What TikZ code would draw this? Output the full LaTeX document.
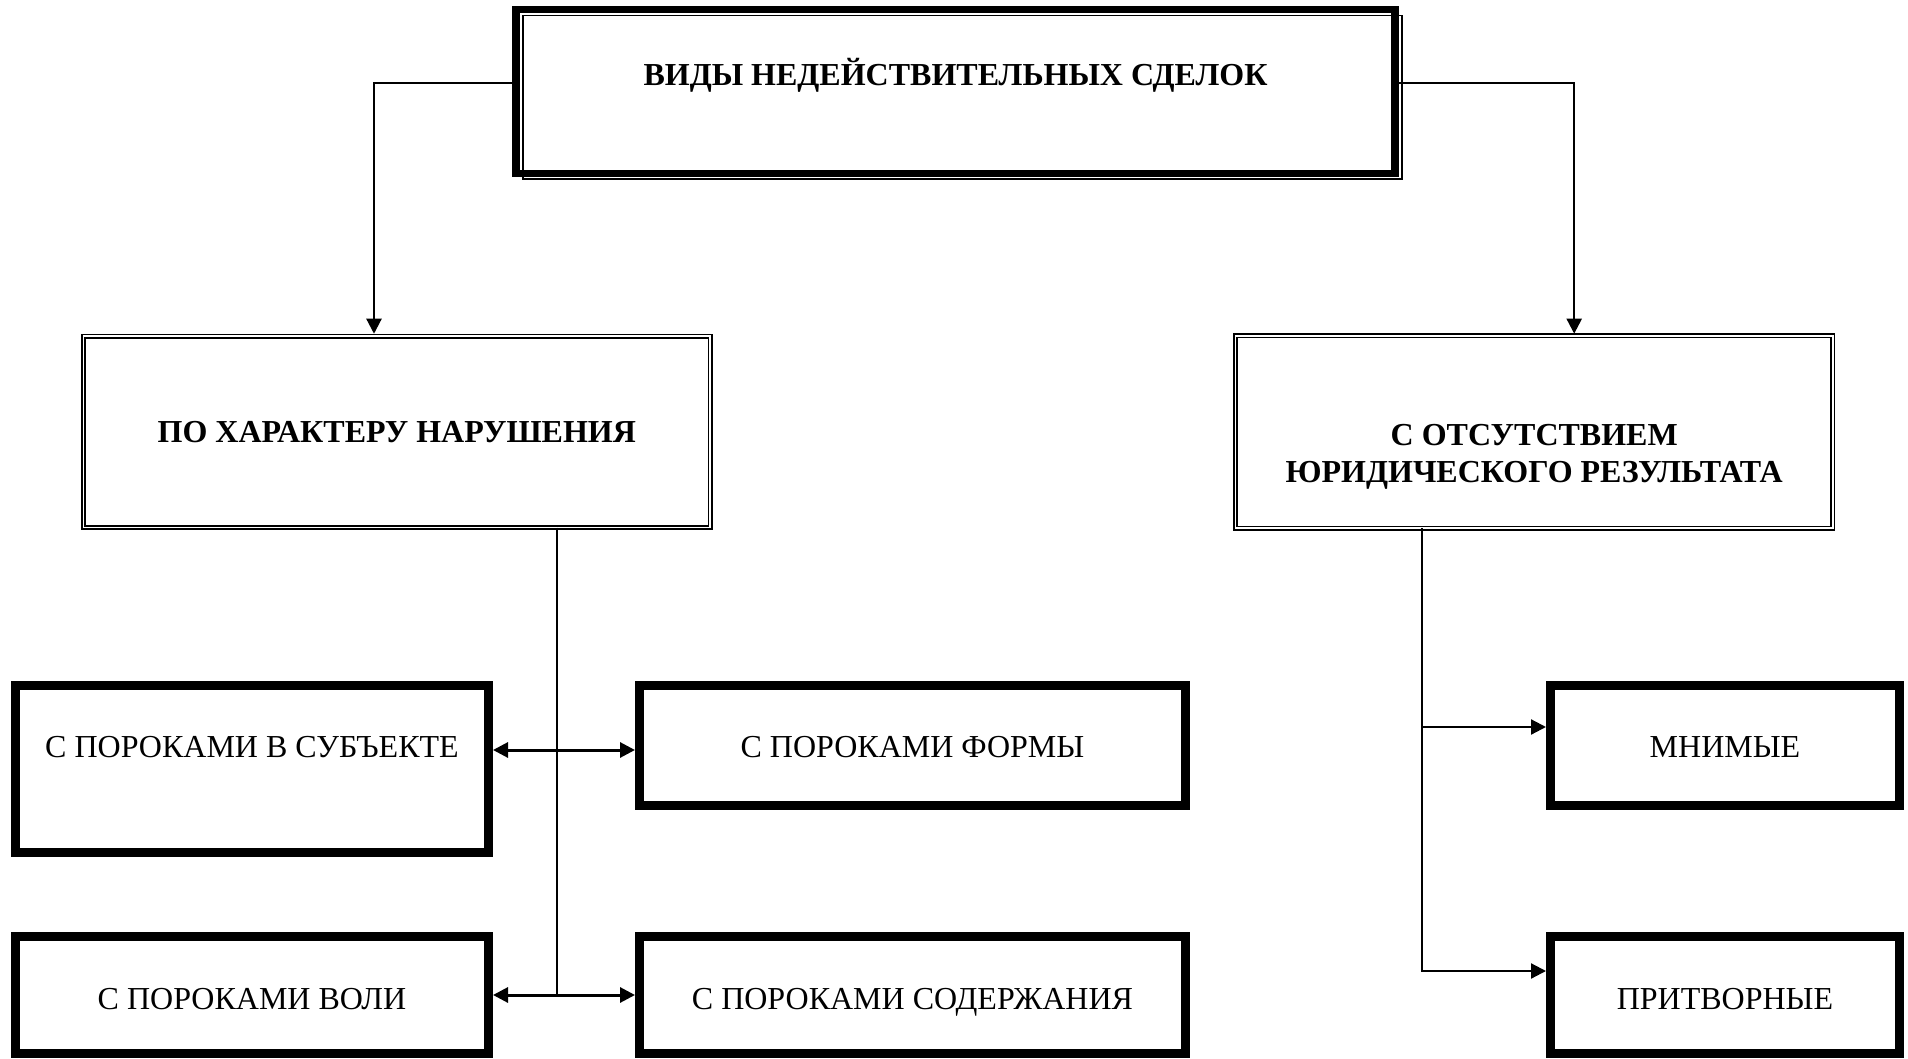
\documentclass[tikz,border=0pt]{standalone}
\usepackage{fontspec}
\setmainfont{Liberation Serif}
\usepackage{tikz}
\usetikzlibrary{arrows.meta,positioning}

\begin{document}
\begin{tikzpicture}[
font=\fontsize{16}{18.5}\selectfont,
topbox/.style={draw,line width=3.75pt,inner sep=0pt,outer sep=0pt,minimum width=439.5pt,text height=38.15pt,text depth=43.65pt,font=\fontsize{16}{18.5}\selectfont\bfseries},
thinframe/.style={draw,line width=0.8pt},
dblbox/.style={draw,double,line width=0.9pt,double distance=0.7pt,inner sep=0pt,outer sep=0pt,minimum height=95.75pt,align=center,font=\fontsize{16}{18.5}\selectfont\bfseries},
thickbox/.style={draw,line width=4.5pt,inner sep=0pt,outer sep=0pt,text height=35.75pt,text depth=24.25pt},
lowrow/.style={text height=36.25pt,text depth=22.25pt},
conn/.style={line width=1.1pt},
arr/.style={-{Triangle[length=7.5pt,width=7.5pt]},line width=1.1pt},
dblarr/.style={{Triangle[length=7.5pt,width=7.5pt]}-{Triangle[length=7.5pt,width=7.5pt]},line width=1.5pt,shorten <=2.25pt,shorten >=2.25pt}
]
\useasboundingbox (0,0) rectangle (954pt,-529.5pt);

\node[topbox] (vidy) at (477.75pt,-45.75pt) {ВИДЫ НЕДЕЙСТВИТЕЛЬНЫХ СДЕЛОК};
\draw[thinframe] ([shift={(3.6pt,-3pt)}]vidy.north west) rectangle ([shift={(3.6pt,-3pt)}]vidy.south east);

\node[dblbox,minimum width=313.25pt] (harakter) at (198.4pt,-215.9pt) {ПО ХАРАКТЕРУ НАРУШЕНИЯ};
\node[dblbox,minimum width=298.75pt,text height=73.3pt,text depth=22.7pt] (result) at (767.1pt,-216pt) {С ОТСУТСТВИЕМ\\ЮРИДИЧЕСКОГО РЕЗУЛЬТАТА};

\node[thickbox,minimum width=236.5pt,text depth=47.75pt,anchor=north west] (subj) at (7.75pt,-342.75pt) {С ПОРОКАМИ В СУБЪЕКТЕ};
\node[thickbox,minimum width=273pt,right=75.5pt of subj.north east,anchor=north west] (forma) {С ПОРОКАМИ ФОРМЫ};
\node[thickbox,minimum width=174.5pt,right=182.5pt of forma.north east,anchor=north west] (mnim) {МНИМЫЕ};
\node[thickbox,lowrow,minimum width=236.5pt,below=42pt of subj.south west,anchor=north west] (volya) {С ПОРОКАМИ ВОЛИ};
\node[thickbox,lowrow,minimum width=273pt,right=75.5pt of volya.north east,anchor=north west] (soderzh) {С ПОРОКАМИ СОДЕРЖАНИЯ};
\node[thickbox,lowrow,minimum width=174.5pt,right=182.5pt of soderzh.north east,anchor=north west] (pritv) {ПРИТВОРНЫЕ};

\draw[arr,shorten >=1.15pt] ([yshift=4.1pt]vidy.west) -| ([xshift=-11.4pt]harakter.north);
\draw[arr,shorten >=1.15pt] ([yshift=4.1pt]vidy.east) -| ([xshift=20pt]result.north);

\coordinate (hv) at ([xshift=80.1pt]harakter.south);
\coordinate (fw) at ([yshift=-2.25pt]forma.west);
\draw[conn] (hv) -- (hv |- volya.east);
\draw[dblarr] (subj.east |- fw) -- (fw);
\draw[dblarr] (volya.east) -- (soderzh.west);

\coordinate (rv) at ([xshift=-56.1pt]result.south);
\draw[arr,shorten >=2.25pt] (rv) |- ([yshift=9.25pt]mnim.west);
\draw[arr,shorten >=2.25pt] (rv) |- ([yshift=12pt]pritv.west);
\end{tikzpicture}
\end{document}
